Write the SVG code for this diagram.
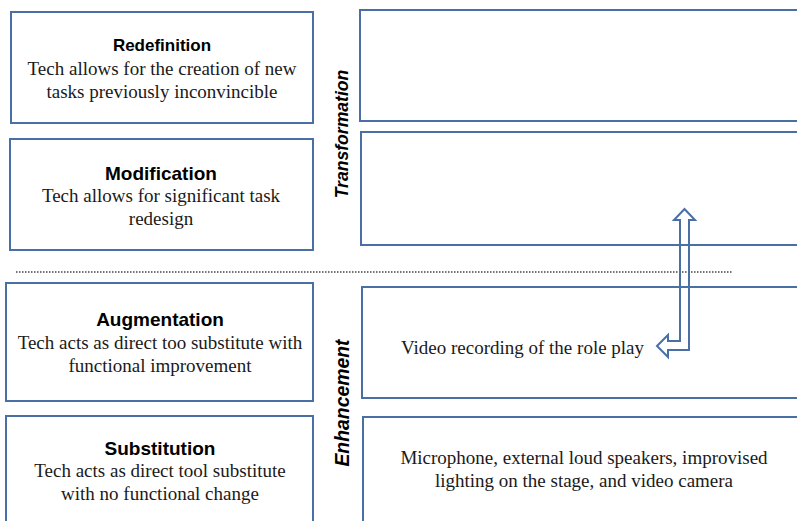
<svg xmlns="http://www.w3.org/2000/svg" width="797" height="521" viewBox="0 0 797 521">
  <style>
    .box { fill: #ffffff; stroke: #4a6fa5; stroke-width: 2; }
    .head { font-family: "Liberation Sans", Arial, sans-serif; font-weight: bold; fill: #000; text-anchor: middle; }
    .body { font-family: "Liberation Serif", "Times New Roman", serif; font-size: 19px; fill: #1a1a1a; text-anchor: middle; }
    .side { font-family: "Liberation Sans", Arial, sans-serif; font-weight: bold; font-style: italic; fill: #000; text-anchor: middle; }
    .conn { fill: none; stroke: #4a6fa5; stroke-width: 2; stroke-linejoin: miter; }
    .divider { stroke: #444; stroke-width: 1.6; stroke-dasharray: 1.5 1.5; }
  </style>
  <rect width="797" height="521" fill="#ffffff"/>

  <!-- SAMR levels, left column -->
  <g id="redefinition">
    <rect class="box" x="11" y="12" width="302" height="111"/>
    <text class="head" x="162" y="51" font-size="17">Redefinition</text>
    <text class="body" x="162" y="75">Tech allows for the creation of new</text>
    <text class="body" x="162" y="98">tasks previously inconvincible</text>
  </g>
  <g id="modification">
    <rect class="box" x="10" y="139" width="303" height="111"/>
    <text class="head" x="161" y="180" font-size="19">Modification</text>
    <text class="body" x="161" y="202">Tech allows for significant task</text>
    <text class="body" x="161" y="225">redesign</text>
  </g>
  <g id="augmentation">
    <rect class="box" x="6" y="283" width="307" height="118"/>
    <text class="head" x="160" y="326" font-size="19">Augmentation</text>
    <text class="body" x="160" y="349">Tech acts as direct too substitute with</text>
    <text class="body" x="160" y="372">functional improvement</text>
  </g>
  <g id="substitution">
    <rect class="box" x="6" y="416" width="307" height="120"/>
    <text class="head" x="160" y="455" font-size="19">Substitution</text>
    <text class="body" x="160" y="477">Tech acts as direct tool substitute</text>
    <text class="body" x="160" y="500">with no functional change</text>
  </g>

  <!-- Side labels -->
  <g id="label-transformation">
    <text class="side" font-size="17.6" transform="translate(347.5,134) rotate(-90)">Transformation</text>
  </g>
  <g id="label-enhancement">
    <text class="side" font-size="19.4" transform="translate(349,403) rotate(-90)">Enhancement</text>
  </g>

  <!-- Examples, right column -->
  <g id="example-redefinition">
    <rect class="box" x="360" y="10" width="450" height="111"/>
  </g>
  <g id="example-modification">
    <rect class="box" x="361" y="132" width="450" height="113"/>
  </g>
  <g id="example-augmentation">
    <rect class="box" x="362" y="287" width="450" height="111"/>
    <text class="body" x="522.5" y="354">Video recording of the role play</text>
  </g>
  <g id="example-substitution">
    <rect class="box" x="363" y="417" width="450" height="120"/>
    <text class="body" x="584" y="464">Microphone, external loud speakers, improvised</text>
    <text class="body" x="584" y="487">lighting on the stage, and video camera</text>
  </g>

  <!-- Divider between Transformation and Enhancement -->
  <line class="divider" x1="16" y1="272" x2="733" y2="272"/>

  <!-- Connectors -->
  <g id="connectors">
    <polygon class="conn" points="657,346 668,335 668,341 680,341 680,220 674,220 684.5,209 695,220 689,220 689,350 668,350 668,357"/>
  </g>
</svg>
